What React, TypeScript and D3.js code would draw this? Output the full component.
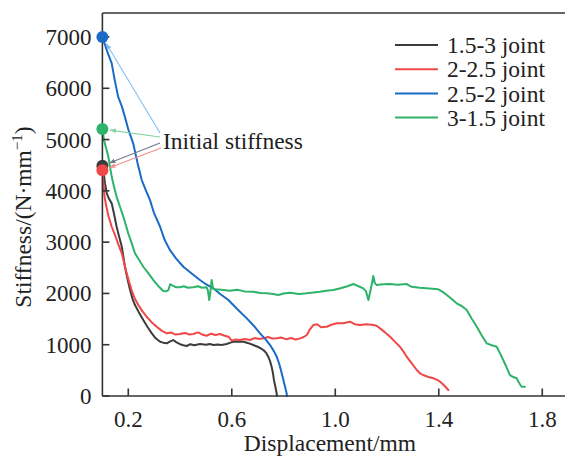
import React from "react";
import * as d3 from "d3";

const seriesNames = ["1.5-3 joint", "2-2.5 joint", "2.5-2 joint", "3-1.5 joint"];
const seriesColors = ["#3c3c3c", "#f04848", "#1b6bc6", "#2eb36a"];
const arrowColors = ["#6f7a88", "#f58c8c", "#86bdec", "#82d3a4"];

const xTicks = [0.2, 0.6, 1.0, 1.4, 1.8];
const yTicks = [0, 1000, 2000, 3000, 4000, 5000, 6000, 7000];

const black15_3: [number, number][] = [
  [0.1, 4483], [0.105, 4350], [0.11, 4150], [0.117, 3950], [0.125, 3850], [0.136, 3756], [0.145, 3550],
  [0.155, 3300], [0.165, 3100], [0.175, 2910], [0.187, 2520], [0.197, 2280], [0.207, 2066], [0.216, 1900],
  [0.226, 1774], [0.24, 1640], [0.258, 1481], [0.275, 1340], [0.291, 1222], [0.305, 1130], [0.323, 1058],
  [0.335, 1040], [0.349, 1027], [0.36, 1060], [0.374, 1091], [0.385, 1050], [0.4, 1010], [0.413, 990],
  [0.426, 975], [0.44, 1010], [0.455, 990], [0.477, 1013], [0.5, 1000], [0.515, 1015], [0.529, 994],
  [0.545, 1005], [0.56, 995], [0.58, 1013], [0.595, 1040], [0.606, 1058], [0.625, 1065], [0.645, 1058],
  [0.665, 1030], [0.683, 994], [0.7, 960], [0.712, 930], [0.722, 897], [0.733, 840], [0.741, 766],
  [0.748, 680], [0.754, 571], [0.759, 450], [0.763, 312], [0.768, 190], [0.772, 90], [0.775, 0],
];

const red2_25: [number, number][] = [
  [0.1, 4385], [0.104, 4150], [0.108, 3900], [0.115, 3700], [0.124, 3500], [0.136, 3300], [0.15, 3120],
  [0.162, 2950], [0.175, 2781], [0.185, 2580], [0.194, 2391], [0.203, 2230], [0.213, 2066], [0.225, 1900],
  [0.239, 1774], [0.255, 1650], [0.271, 1546], [0.29, 1440], [0.31, 1351], [0.33, 1270], [0.349, 1222],
  [0.365, 1240], [0.38, 1200], [0.4, 1208], [0.42, 1230], [0.435, 1200], [0.451, 1208], [0.47, 1240],
  [0.485, 1200], [0.503, 1175], [0.52, 1215], [0.537, 1190], [0.554, 1208], [0.57, 1180], [0.587, 1156],
  [0.6, 1080], [0.615, 1100], [0.632, 1091], [0.65, 1110], [0.67, 1091], [0.69, 1130], [0.705, 1110],
  [0.722, 1124], [0.74, 1150], [0.757, 1120], [0.774, 1124], [0.79, 1140], [0.812, 1105], [0.83, 1130],
  [0.847, 1100], [0.864, 1124], [0.878, 1150], [0.89, 1189], [0.902, 1300], [0.915, 1384], [0.93, 1400],
  [0.945, 1340], [0.967, 1351], [0.985, 1390], [1.006, 1417], [1.03, 1420], [1.057, 1448], [1.075, 1400],
  [1.096, 1384], [1.12, 1400], [1.147, 1384], [1.16, 1370], [1.173, 1319], [1.19, 1250], [1.212, 1156],
  [1.23, 1060], [1.25, 961], [1.263, 870], [1.276, 766], [1.295, 640], [1.315, 507], [1.328, 440],
  [1.34, 409], [1.36, 370], [1.379, 345], [1.392, 320], [1.405, 279], [1.42, 210], [1.437, 117],
];

const blue25_2: [number, number][] = [
  [0.1, 7000], [0.11, 6850], [0.12, 6700], [0.136, 6485], [0.148, 6150], [0.161, 5833], [0.175, 5650],
  [0.187, 5443], [0.2, 5200], [0.219, 4925], [0.235, 4560], [0.252, 4210], [0.268, 4010], [0.284, 3820],
  [0.3, 3560], [0.323, 3300], [0.34, 3050], [0.361, 2845], [0.385, 2680], [0.413, 2520], [0.445, 2390],
  [0.477, 2261], [0.5, 2180], [0.529, 2099], [0.555, 1990], [0.587, 1871], [0.62, 1700], [0.658, 1514],
  [0.685, 1370], [0.709, 1222], [0.73, 1110], [0.748, 994], [0.762, 880], [0.774, 766], [0.785, 600],
  [0.793, 442], [0.803, 240], [0.812, 53], [0.813, 0],
];

const green3_15: [number, number][] = [
  [0.1, 5204], [0.103, 5100], [0.106, 4989], [0.115, 4820], [0.123, 4664], [0.136, 4274], [0.145, 4080],
  [0.155, 3884], [0.168, 3690], [0.181, 3494], [0.2, 3171], [0.213, 2980], [0.226, 2781], [0.242, 2650],
  [0.258, 2520], [0.278, 2390], [0.297, 2261], [0.315, 2150], [0.335, 2046], [0.345, 2040], [0.355, 2066],
  [0.362, 2180], [0.368, 2163], [0.385, 2120], [0.4, 2119], [0.415, 2140], [0.43, 2110], [0.451, 2119],
  [0.47, 2140], [0.485, 2110], [0.503, 2119], [0.508, 2050], [0.513, 1871], [0.518, 2060], [0.522, 2261],
  [0.528, 2090], [0.535, 2080], [0.56, 2070], [0.593, 2052], [0.62, 2070], [0.65, 2040], [0.683, 2033],
  [0.71, 2010], [0.735, 2002], [0.76, 1990], [0.78, 1969], [0.8, 2000], [0.825, 2013], [0.86, 1990],
  [0.89, 2002], [0.915, 2020], [0.941, 2033], [0.965, 2050], [0.992, 2066], [1.02, 2100], [1.05, 2144],
  [1.07, 2183], [1.09, 2140], [1.108, 2099], [1.118, 2050], [1.128, 1871], [1.138, 2100], [1.147, 2339],
  [1.153, 2200], [1.16, 2163], [1.185, 2180], [1.211, 2183], [1.24, 2170], [1.276, 2183], [1.295, 2130],
  [1.325, 2110], [1.353, 2099], [1.375, 2090], [1.398, 2080], [1.415, 2030], [1.431, 1969], [1.45, 1890],
  [1.469, 1807], [1.49, 1750], [1.508, 1676], [1.527, 1510], [1.547, 1351], [1.565, 1190], [1.585, 1027],
  [1.605, 990], [1.624, 961], [1.637, 830], [1.649, 702], [1.662, 560], [1.675, 409], [1.688, 370],
  [1.701, 345], [1.71, 260], [1.72, 181], [1.733, 181],
];

const seriesData = [black15_3, red2_25, blue25_2, green3_15];
const initialStiffness = [4490, 4400, 7000, 5205];
const annotationText = "Initial stiffness";

const W = 565;
const H = 459;
const FONT = "Liberation Serif, Tinos, DejaVu Serif, Noto Serif, serif";

export default function App() {
  const x = d3.scaleLinear().domain([0.1, 1.9]).range([102.4, 568.15]);
  const y = d3.scaleLinear().domain([0, 7468]).range([396, 13]);
  const line = d3
    .line<[number, number]>()
    .x((d) => x(d[0]))
    .y((d) => y(d[1]));

  const axisColor = "#333";
  const textColor = "#222";
  const ts = { fontFamily: FONT };

  const sources: [number, number][] = [
    [160, 143],
    [161, 148],
    [160, 133],
    [160, 137],
  ];

  return (
    <svg
      width={W}
      height={H}
      style={{ position: "absolute", left: 0, top: 0, background: "#fff", fontFamily: FONT }}
    >
      <defs>
        {arrowColors.map((c, i) => (
          <marker
            key={i}
            id={`arrow${i}`}
            viewBox="0 0 10 10"
            refX={10}
            refY={5}
            markerWidth={6}
            markerHeight={6}
            markerUnits="userSpaceOnUse"
            orient="auto"
          >
            <path d="M0,1 L10,5 L0,9 Z" fill={c} />
          </marker>
        ))}
      </defs>
      <rect x={0} y={0} width={W} height={H} fill="#fff" />

      <line x1={x(0.1)} x2={W + 5} y1={y(7468)} y2={y(7468)} stroke={axisColor} strokeWidth={1.6} />

      {seriesData.map((s, i) => (
        <path
          key={i}
          d={line(s) || ""}
          fill="none"
          stroke={seriesColors[i]}
          strokeWidth={2}
          strokeLinejoin="round"
          strokeLinecap="round"
        />
      ))}

      <line x1={x(0.1)} x2={x(0.1)} y1={y(0)} y2={y(7468)} stroke={axisColor} strokeWidth={1.6} />
      <line x1={x(0.1)} x2={W + 5} y1={y(0)} y2={y(0)} stroke={axisColor} strokeWidth={1.6} />

      {yTicks.map((t) => (
        <g key={t}>
          <line x1={x(0.1)} x2={x(0.1) + 7} y1={y(t)} y2={y(t)} stroke={axisColor} strokeWidth={1.6} />
          <text
            x={x(0.1) - 11}
            y={y(t)}
            dy="0.35em"
            textAnchor="end"
            fontSize={23}
            fill={textColor}
            style={ts}
          >
            {t}
          </text>
        </g>
      ))}
      {xTicks.map((t) => (
        <g key={t}>
          <line x1={x(t)} x2={x(t)} y1={y(0)} y2={y(0) - 7.5} stroke={axisColor} strokeWidth={1.6} />
          <text x={x(t)} y={426.5} textAnchor="middle" fontSize={23} fill={textColor} style={ts}>
            {t.toFixed(1)}
          </text>
        </g>
      ))}

      <text x={330} y={451} textAnchor="middle" fontSize={23.5} fill={textColor} style={ts}>
        Displacement/mm
      </text>
      <text
        transform={`translate(31,217) rotate(-90)`}
        textAnchor="middle"
        fontSize={23.5}
        fill={textColor}
        style={ts}
      >
        Stiffness/(N·mm<tspan dy={-9} fontSize={15}>−1</tspan>
        <tspan dy={9}>)</tspan>
      </text>

      {initialStiffness.map((v, i) => {
        const cx = x(0.1);
        const cy = y(v);
        const [sx, sy] = sources[i];
        const dx = sx - cx;
        const dy = sy - cy;
        const len = Math.sqrt(dx * dx + dy * dy);
        const tx = cx + (dx / len) * 7.5;
        const ty = cy + (dy / len) * 7.5;
        return (
          <line
            key={i}
            x1={sx}
            y1={sy}
            x2={tx}
            y2={ty}
            stroke={arrowColors[i]}
            strokeWidth={1.1}
            markerEnd={`url(#arrow${i})`}
          />
        );
      })}
      <text x={163} y={149} fontSize={23.5} fill={textColor} style={ts}>
        {annotationText}
      </text>

      {initialStiffness.map((v, i) => (
        <circle key={i} cx={x(0.1)} cy={y(v)} r={6} fill={seriesColors[i]} />
      ))}

      {seriesNames.map((n, i) => {
        const ly = 45 + i * 24.2;
        return (
          <g key={n}>
            <line x1={395} x2={438} y1={ly} y2={ly} stroke={seriesColors[i]} strokeWidth={2} />
            <text x={447} y={ly} dy="0.35em" fontSize={23.5} fill={textColor} style={ts}>
              {n}
            </text>
          </g>
        );
      })}
    </svg>
  );
}
